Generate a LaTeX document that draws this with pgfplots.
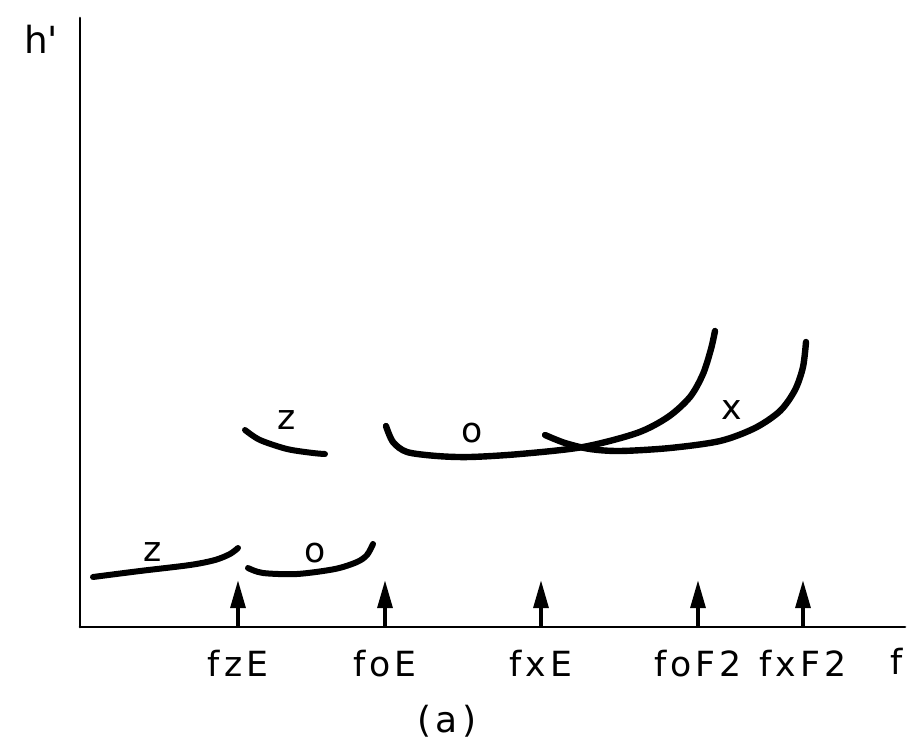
\documentclass[border=0pt]{standalone}
\usepackage{fontspec}
\setmainfont{DejaVu Sans}[LetterSpace=12]
\usepackage{pgfplots}
\pgfplotsset{compat=1.18}
\usetikzlibrary{arrows.meta}
\begin{document}
\begin{tikzpicture}
\begin{axis}[
  x=0.75pt, y=0.75pt,
  xmin=80, xmax=905, ymin=0, ymax=609,
  axis x line=bottom, axis y line=left,
  axis line style={-, line width=2pt, line cap=round},
  clip=false,
  ytick=\empty,
  xtick={238,385,541,698,803},
  xticklabels={fzE,foE,fxE,foF2,fxF2},
  major tick length=0pt,
  xticklabel style={anchor=base, yshift=-36.75pt, font=\fontsize{26}{28}\selectfont},
]
\path (axis cs:0,-111) rectangle (axis cs:908,627);
% low z trace
\addplot[black, line width=4.5pt, line cap=round, smooth] coordinates {
(93,50) (140,56) (190,62) (215,67) (230,73) (238,79)};
% low o trace
\addplot[black, line width=4.5pt, line cap=round, smooth] coordinates {
(248,59) (263,54) (297,53) (335,58) (357,65) (367,72) (373,83)};
% upper z trace
\addplot[black, line width=4.5pt, line cap=round, smooth] coordinates {
(245,197) (260,187) (287,178) (313,174) (325,173)};
% F o trace
\addplot[black, line width=4.8pt, line cap=round, smooth] coordinates {
(386,201) (393,185) (407,175) (437,171) (470,170) (520,173) (583,180) (637,194) (668,210) (690,230) (703,253) (711,278) (715,296)};
% F x trace
\addplot[black, line width=4.8pt, line cap=round, smooth] coordinates {
(545,192) (565,184) (590,178) (620,176) (670,179) (720,186) (755,199) (780,216) (795,237) (803,260) (806,285)};
% arrows
\foreach \xx in {238,385,541,698,803}{
  \edef\tmp{\noexpand\addplot[black, line width=3pt, -{Triangle[length=21pt, width=11pt]}] coordinates {(\xx,0) (\xx,47)};}
  \tmp
}
% labels
\node[font=\fontsize{26}{28}\selectfont] at (axis cs:153,75) {z};
\node[font=\fontsize{26}{28}\selectfont] at (axis cs:315,74) {o};
\node[font=\fontsize{26}{28}\selectfont] at (axis cs:287,207) {z};
\node[font=\fontsize{26}{28}\selectfont] at (axis cs:472,194) {o};
\node[font=\fontsize{26}{28}\selectfont] at (axis cs:732,217) {x};
\node[anchor=base, font=\fontsize{28}{30}\selectfont] at (axis cs:41,574) {h\textquotesingle};
\node[anchor=base, font=\fontsize{26}{28}\selectfont] at (axis cs:897,-47) {f};
\node[anchor=base, font=\fontsize{27}{30}\selectfont] at (axis cs:447,-105) {(a)};
\end{axis}
\end{tikzpicture}
\end{document}
